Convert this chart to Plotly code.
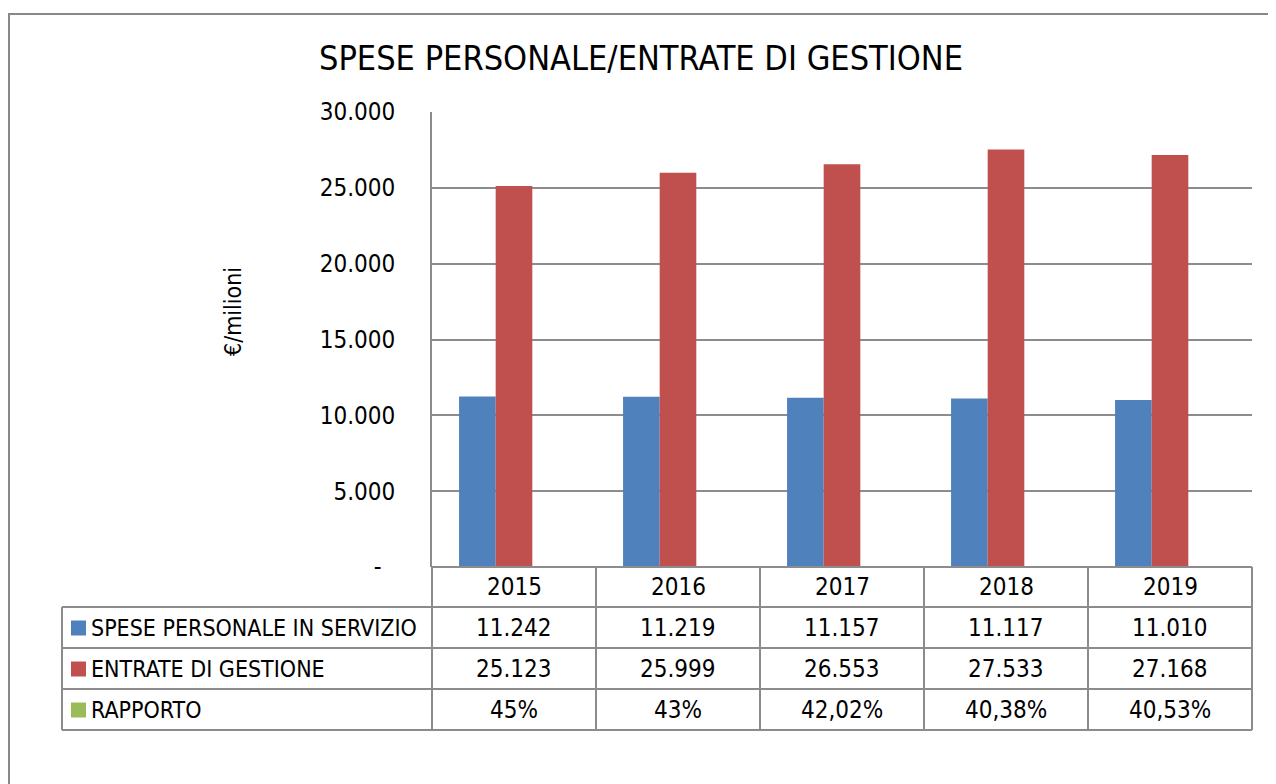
import plotly.graph_objects as go

years = ["2015", "2016", "2017", "2018", "2019"]
spese = [11242, 11219, 11157, 11117, 11010]
entrate = [25123, 25999, 26553, 27533, 27168]
rapporto = [0.45, 0.43, 0.4202, 0.4038, 0.4053]
rapporto_labels = ["45%", "43%", "42,02%", "40,38%", "40,53%"]
series_names = ["SPESE PERSONALE IN SERVIZIO", "ENTRATE DI GESTIONE", "RAPPORTO"]
y_tickvals = [0, 5000, 10000, 15000, 20000, 25000, 30000]
y_ticktext = ["-\u00a0\u00a0", "5.000", "10.000", "15.000", "20.000", "25.000", "30.000"]
title_text = "SPESE PERSONALE/ENTRATE DI GESTIONE"
y_title = "€/milioni"

colors = ["#4F81BD", "#C0504D", "#9BBB59"]
FONT = "DejaVu Sans Condensed, Liberation Sans Narrow, Arial Narrow, sans-serif"
GRID = "#8C8C8C"

W, H = 1276, 784
OFF = 8  # page body margin
L, R, T, B = 432, 1252, 112, 567  # reference pixel coords of plot area


def px(x):
    return (x - L) / (R - L)


def py(y):
    return (B - y) / (B - T)


def fmt(v):
    return f"{v:,}".replace(",", ".")


fig = go.Figure()
for name, vals, c in zip(series_names, [spese, entrate, rapporto], colors):
    fig.add_trace(go.Bar(x=years, y=vals, name=name, marker=dict(color=c, line=dict(width=0))))

shapes = []
annotations = []

# outer chart border
shapes.append(dict(type="rect", xref="paper", yref="paper", x0=px(9), x1=px(1300),
                   y0=py(830), y1=py(14), line=dict(color="#888888", width=2), layer="below"))

# table geometry
col_edges = [432, 596, 760, 924, 1088, 1252]
row_edges = [567, 607, 648, 689, 730]
label_left = 62

for x in col_edges:
    shapes.append(dict(type="line", xref="paper", yref="paper", x0=px(x), x1=px(x),
                       y0=py(567), y1=py(730), line=dict(color=GRID, width=2)))
shapes.append(dict(type="line", xref="paper", yref="paper", x0=px(label_left), x1=px(label_left),
                   y0=py(607), y1=py(730), line=dict(color=GRID, width=2)))
shapes.append(dict(type="line", xref="paper", yref="paper", x0=px(432), x1=px(1252),
                   y0=py(567), y1=py(567), line=dict(color=GRID, width=2)))
for y in row_edges[1:]:
    shapes.append(dict(type="line", xref="paper", yref="paper", x0=px(label_left), x1=px(1252),
                       y0=py(y), y1=py(y), line=dict(color=GRID, width=2)))

TXT = dict(size=24, color="black", family=FONT)

# header years (category index positions on the x axis)
for i, yr in enumerate(years):
    annotations.append(dict(x=i, xref="x", y=py(587), yref="paper", text=yr, showarrow=False,
                            font=TXT, xanchor="center", yanchor="middle"))

rows = [
    [fmt(v) for v in spese],
    [fmt(v) for v in entrate],
    rapporto_labels,
]
row_centers = [627.5, 668.5, 709.5]
for name, cells, yc, c in zip(series_names, rows, row_centers, colors):
    shapes.append(dict(type="rect", xref="paper", yref="paper", x0=px(71), x1=px(86),
                       y0=py(yc + 8), y1=py(yc - 7), fillcolor=c, line=dict(width=0)))
    annotations.append(dict(x=px(89), xref="paper", y=py(yc), yref="paper", text=name, showarrow=False,
                            font=dict(size=23, color="black", family=FONT), xanchor="left", yanchor="middle"))
    for i, t in enumerate(cells):
        annotations.append(dict(x=i, xref="x", y=py(yc), yref="paper", text=t, showarrow=False,
                                font=TXT, xanchor="center", yanchor="middle"))

# title
annotations.append(dict(x=px(641), xref="paper", y=py(58), yref="paper", text=title_text, showarrow=False,
                        font=dict(size=34, color="black", family=FONT), xanchor="center", yanchor="middle"))
# y-axis title
annotations.append(dict(x=px(233), xref="paper", y=py(312), yref="paper", text=y_title, showarrow=False,
                        textangle=-90, font=dict(size=23, color="black", family=FONT),
                        xanchor="center", yanchor="middle"))

fig.update_layout(
    width=W, height=H,
    margin=dict(l=L - OFF, r=W - R + OFF, t=T - OFF, b=H - B + OFF, pad=0),
    paper_bgcolor="white", plot_bgcolor="white",
    barmode="group", bargap=0.33, bargroupgap=0,
    showlegend=False,
    font=dict(family=FONT, color="black", size=24),
    shapes=shapes, annotations=annotations,
    xaxis=dict(type="category", range=[-0.5, 4.5], showticklabels=False, showgrid=False,
               zeroline=False, showline=False, ticks=""),
    yaxis=dict(range=[0, 30000], tickvals=y_tickvals, ticktext=y_ticktext, showgrid=True,
               gridcolor=GRID, gridwidth=2, zeroline=False, showline=True, linecolor=GRID, linewidth=2,
               ticks="", ticklabelstandoff=30, tickfont=TXT),
)

fig.write_html("out.html")
